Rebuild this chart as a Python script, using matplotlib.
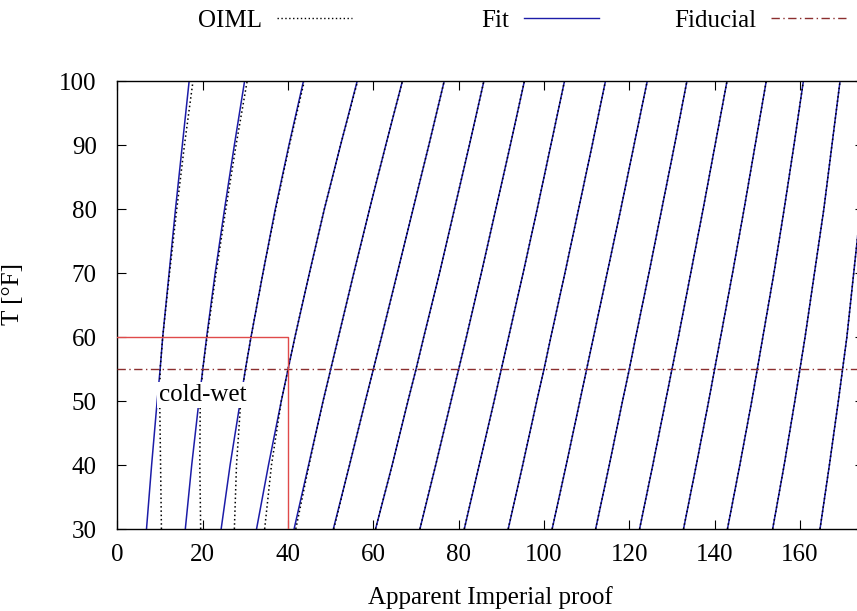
import matplotlib
matplotlib.use('Agg')
import matplotlib.pyplot as plt
from matplotlib.lines import Line2D

plt.rcParams['font.family'] = ['Liberation Serif', 'DejaVu Serif']
plt.rcParams['font.size'] = 18

temps = [30, 40, 50, 55, 60, 70, 80, 90, 100]
true_proofs = [10, 20, 30, 40, 50, 60, 70, 80, 90, 100, 110, 120, 130, 140, 150, 160, 170]

# apparent Imperial proof, one row per true proof, one column per temperature
fit_apparent = [
    [6.8, 8.0, 9.3, 10, 10.6, 12.1, 13.6, 15.2, 16.8],
    [15.9, 17.4, 19.1, 20, 20.9, 22.9, 25.1, 27.4, 29.8],
    [24.3, 26.4, 28.8, 30, 31.3, 34.1, 37.0, 40.2, 43.6],
    [32.6, 35.4, 38.4, 40, 41.6, 45.0, 48.5, 52.3, 56.2],
    [41.4, 44.8, 48.2, 50, 51.8, 55.4, 59.1, 62.9, 66.8],
    [50.6, 54.4, 58.1, 60, 61.9, 65.6, 69.3, 73.0, 76.6],
    [60.5, 64.4, 68.1, 70, 71.8, 75.5, 79.0, 82.5, 85.9],
    [70.9, 74.6, 78.2, 80, 81.8, 85.3, 88.7, 92.1, 95.4],
    [81.3, 84.8, 88.3, 90, 91.7, 95.1, 98.4, 101.6, 104.8],
    [91.6, 95.0, 98.3, 100, 101.6, 104.9, 108.1, 111.3, 114.4],
    [101.9, 105.2, 108.4, 110, 111.6, 114.8, 118.0, 121.1, 124.2],
    [112.1, 115.3, 118.4, 120, 121.5, 124.6, 127.6, 130.6, 133.5],
    [122.4, 125.5, 128.5, 130, 131.5, 134.4, 137.3, 140.1, 142.9],
    [132.7, 135.7, 138.6, 140, 141.4, 144.2, 146.9, 149.5, 152.1],
    [143.0, 145.9, 148.7, 150, 151.3, 153.9, 156.3, 158.6, 160.8],
    [153.6, 156.3, 158.8, 160, 161.2, 163.4, 165.6, 167.5, 169.4],
    [164.7, 166.9, 169.0, 170, 171.0, 172.6, 174.2, 175.8, 177.2],
]

oiml_apparent = [
    [10.3, 10.1, 9.9, 10, 10.6, 12.2, 13.9, 15.7, 17.7],
    [19.5, 19.3, 19.4, 20, 21.0, 23.1, 25.4, 27.8, 30.4],
    [27.4, 27.9, 28.9, 30, 31.3, 34.1, 37.1, 40.3, 43.8],
    [34.5, 36.1, 38.4, 40, 41.6, 45.0, 48.5, 52.3, 56.3],
    [41.8, 44.9, 48.2, 50, 51.8, 55.4, 59.1, 62.9, 66.8],
    [50.7, 54.4, 58.1, 60, 61.9, 65.6, 69.3, 73.0, 76.6],
    [60.5, 64.4, 68.1, 70, 71.8, 75.5, 79.0, 82.5, 85.9],
    [70.9, 74.6, 78.2, 80, 81.8, 85.3, 88.7, 92.1, 95.4],
    [81.3, 84.8, 88.3, 90, 91.7, 95.1, 98.4, 101.6, 104.8],
    [91.6, 95.0, 98.3, 100, 101.6, 104.9, 108.1, 111.3, 114.4],
    [101.9, 105.2, 108.4, 110, 111.6, 114.8, 118.0, 121.1, 124.2],
    [112.1, 115.3, 118.4, 120, 121.5, 124.6, 127.6, 130.6, 133.5],
    [122.4, 125.5, 128.5, 130, 131.5, 134.4, 137.3, 140.1, 142.9],
    [132.7, 135.7, 138.6, 140, 141.4, 144.2, 146.9, 149.5, 152.1],
    [143.0, 145.9, 148.7, 150, 151.3, 153.9, 156.3, 158.6, 160.8],
    [153.6, 156.3, 158.8, 160, 161.2, 163.4, 165.6, 167.5, 169.4],
    [164.7, 166.9, 169.0, 170, 171.0, 172.6, 174.2, 175.8, 177.2],
]

fiducial_T = 55
cold_wet_T = 60
cold_wet_proof = 40

FIT_COLOR = '#1c1ca8'
FID_COLOR = '#8b2e2e'
BOX_COLOR = '#e04a4a'

fig = plt.figure(figsize=(8.57, 6.11), dpi=100)
# right edge of the plot runs past the picture, as in the original
ax = fig.add_axes([0.1371, 0.1342, 0.871, 0.7332])

for row in fit_apparent:
    ax.plot(row, temps, color=FIT_COLOR, lw=1.1, zorder=2)
for row in oiml_apparent:
    ax.plot(row, temps, color='black', lw=1.1, ls=(0, (1, 1.8)), zorder=3)

ax.axhline(fiducial_T, color=FID_COLOR, lw=1.0, dashes=(6, 2.5, 1, 2.5), zorder=4)
ax.plot([0, cold_wet_proof, cold_wet_proof], [cold_wet_T, cold_wet_T, 30],
        color=BOX_COLOR, lw=1.0, zorder=4)

ax.text(20, 51, 'cold-wet', ha='center', va='center', zorder=6,
        bbox=dict(facecolor='white', edgecolor='none', pad=1.5))

ax.set_xlim(0, 175)
ax.set_ylim(30, 100)
ax.set_xticks(range(0, 180, 20))
ax.set_yticks(range(30, 101, 10))
ax.tick_params(direction='in', length=6.5, width=0.8, top=True, right=True)
ax.tick_params(axis='x', pad=11)
ax.tick_params(axis='y', pad=15)
for s in ax.spines.values():
    s.set_linewidth(1.0)

ax.set_xlabel('Apparent Imperial proof', labelpad=14)
ax.set_ylabel('T [°F]')
ax.yaxis.set_label_coords(-0.125, 0.525)

entries = [
    ('OIML', Line2D([], [], color='black', lw=1.0, ls=(0, (1, 1.8))), 0.411),
    ('Fit', Line2D([], [], color=FIT_COLOR, lw=1.0), 0.699),
    ('Fiducial', Line2D([], [], color=FID_COLOR, lw=1.0, dashes=(6, 2.5, 1, 2.5)), 0.987),
]
for label, handle, xr in entries:
    fig.legend([handle], [label], loc='center right', bbox_to_anchor=(xr, 0.966),
               frameon=False, markerfirst=False, handlelength=3.0,
               handletextpad=0.6, borderpad=0, borderaxespad=0)

fig.savefig('out.png', dpi=100)
